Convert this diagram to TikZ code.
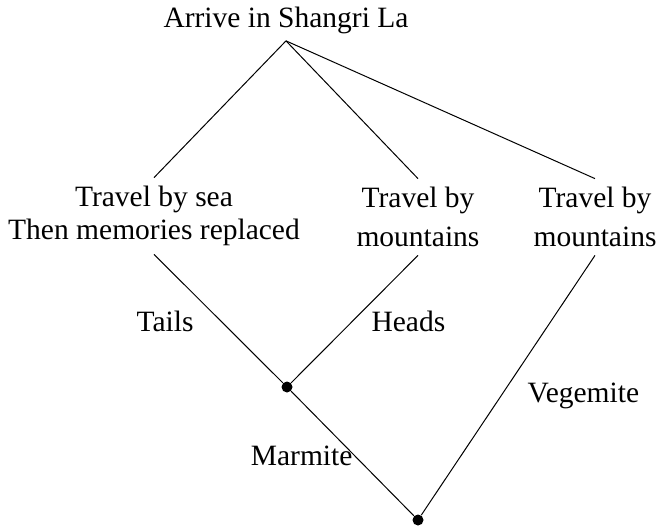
\documentclass[tikz,border=0pt]{standalone}
\usepackage{fontspec}
\setmainfont{Liberation Serif}
\newfontfamily\treefont{Liberation Serif}
\usetikzlibrary{positioning}

\begin{document}
\begin{tikzpicture}[x=1pt, y=-1pt,
            every node/.style = {font=\treefont\fontsize{29.5}{33}\selectfont, align=center, inner sep=8pt},
            tall/.style = {font=\treefont\fontsize{29.5}{39}\selectfont},
            dot/.style = {circle, fill=black, inner sep=0pt, minimum size=11pt},
            lbl/.style = {inner sep=0pt},
            every path/.style = {line width=1pt},
        ]
        \useasboundingbox (0,0) rectangle (659,528);

        \node[anchor=base, inner sep=7pt] (arrive) at (286,27) {Arrive in Shangri La};
        \node (sea) at (154,216) {Travel by sea\\Then memories replaced};
        \node[tall] (mtnA) at (418,217) {Travel by\\mountains};
        \node[tall] (mtnB) at (595,217) {Travel by\\mountains};
        \node[dot] (join) at (287,387) {};
        \node[dot] (end) at (418,520) {};

        \foreach \n in {sea,mtnA,mtnB}
            {
                \draw (arrive.south) -- (\n.north);
            }
        \draw (sea.south) -- node[lbl, pos=0.52, left=27pt] {Tails} (join);
        \draw (mtnA.south) -- node[lbl, pos=0.52, right=19pt] {Heads} (join);
        \draw (join) -- node[lbl, pos=0.52, left=2pt] {Marmite} (end);
        \draw (mtnB.south) -- node[lbl, pos=0.54, right=26pt] {Vegemite} (end);
    \end{tikzpicture}
\end{document}
